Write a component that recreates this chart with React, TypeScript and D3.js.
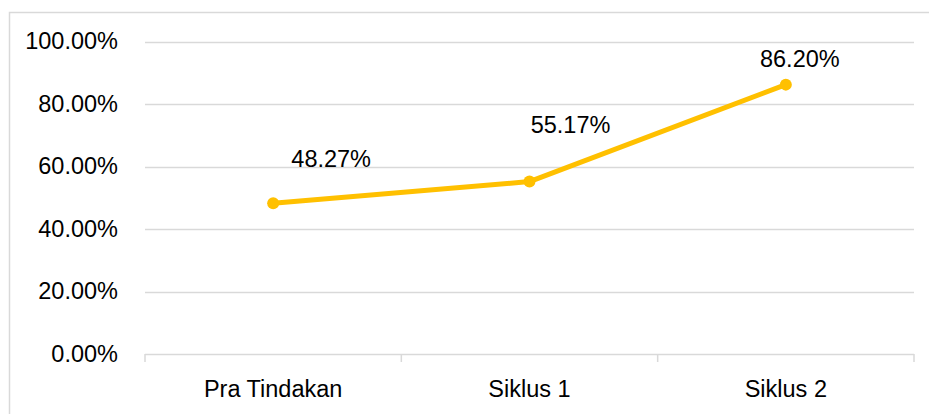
import React, { useEffect, useRef } from 'react';
import * as d3 from 'd3';

const categories = ['Pra Tindakan', 'Siklus 1', 'Siklus 2'];
const values = [0.4827, 0.5517, 0.862];
const valueLabels = ['48.27%', '55.17%', '86.20%'];
const yTicks = [0, 0.2, 0.4, 0.6, 0.8, 1.0];

// manual label placement (px from the point), as in the source chart
const labelDx = [58, 41, 14];
const labelDy = [-36, -49, -18];

const W = 929;
const H = 414;
const FONT = '"Liberation Sans", Arial, sans-serif';
const FS = '23.5px';

export default function App() {
  const svgRef = useRef<SVGSVGElement>(null);

  useEffect(() => {
    if (!svgRef.current) return;
    const svg = d3.select(svgRef.current);
    svg.selectAll('*').remove();

    const left = 145;
    const right = 914;
    const top = 41.5;
    const bottom = 354;

    const x = d3.scalePoint<string>().domain(categories).range([left, right]).padding(0.5);
    const y = d3.scaleLinear().domain([0, 1]).range([bottom, top]);

    // chart border
    svg.append('rect')
      .attr('x', 9.5)
      .attr('y', 12.5)
      .attr('width', W)
      .attr('height', H)
      .attr('fill', 'white')
      .attr('stroke', '#d9d9d9')
      .attr('stroke-width', 1.5);

    // gridlines + y labels
    yTicks.forEach((t) => {
      const yy = Math.round(y(t)) + 0.5;
      svg.append('line')
        .attr('x1', left)
        .attr('x2', right)
        .attr('y1', yy)
        .attr('y2', yy)
        .attr('stroke', '#d9d9d9')
        .attr('stroke-width', t === 0 ? 1.5 : 1.3);
      svg.append('text')
        .attr('x', 118)
        .attr('y', y(t) + 7.5)
        .attr('text-anchor', 'end')
        .attr('fill', '#000')
        .style('font-family', FONT)
        .style('font-size', FS)
        .text(d3.format('.2%')(t));
    });

    // x axis ticks between categories
    const step = x.step();
    d3.range(categories.length + 1).forEach((i) => {
      const xx = left + i * step;
      svg.append('line')
        .attr('x1', xx)
        .attr('x2', xx)
        .attr('y1', bottom)
        .attr('y2', bottom + 8)
        .attr('stroke', '#d9d9d9')
        .attr('stroke-width', 1.5);
    });

    categories.forEach((c) => {
      svg.append('text')
        .attr('x', x(c)!)
        .attr('y', 397)
        .attr('text-anchor', 'middle')
        .attr('fill', '#000')
        .style('font-family', FONT)
        .style('font-size', FS)
        .text(c);
    });

    const pts = categories.map((c, i) => [x(c)!, y(values[i])] as [number, number]);

    svg.append('path')
      .attr('d', d3.line()(pts)!)
      .attr('fill', 'none')
      .attr('stroke', '#FFC000')
      .attr('stroke-width', 5)
      .attr('stroke-linejoin', 'round')
      .attr('stroke-linecap', 'round');

    pts.forEach((p, i) => {
      svg.append('circle')
        .attr('cx', p[0])
        .attr('cy', p[1])
        .attr('r', 6)
        .attr('fill', '#FFC000');
      svg.append('text')
        .attr('x', p[0] + labelDx[i])
        .attr('y', p[1] + labelDy[i])
        .attr('text-anchor', 'middle')
        .attr('fill', '#000')
        .style('font-family', FONT)
        .style('font-size', FS)
        .text(valueLabels[i]);
    });
  }, []);

  return (
    <svg
      ref={svgRef}
      width={W}
      height={H}
      style={{ position: 'absolute', left: 0, top: 0, display: 'block', background: 'white' }}
    />
  );
}
